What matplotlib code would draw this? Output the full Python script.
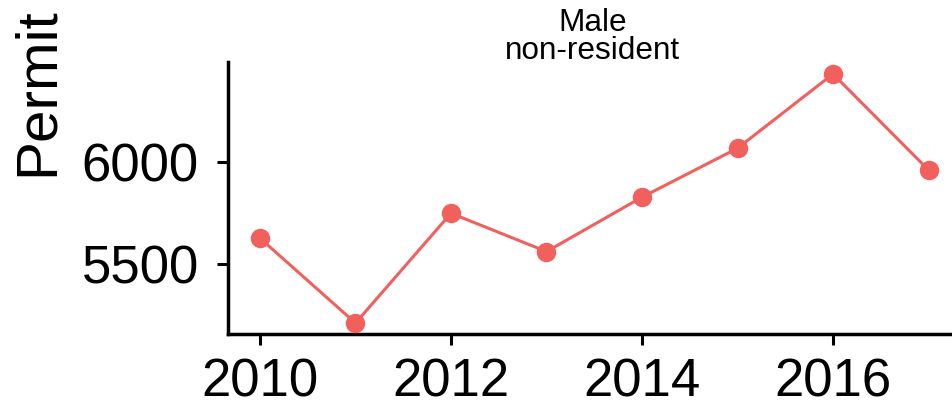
import matplotlib.pyplot as plt

years = [2010, 2011, 2012, 2013, 2014, 2015, 2016, 2017]
permits = [5627, 5209, 5750, 5561, 5829, 6070, 6436, 5963]
x_ticks = [2010, 2012, 2014, 2016]
y_ticks = [5500, 6000]

plt.rcParams['font.family'] = ['Liberation Sans', 'DejaVu Sans']

W, H = 952, 408
fig = plt.figure(figsize=(W / 100, H / 100), dpi=100)
# axes box in pixels: left 228, right 952, top 62, bottom 334
ax = fig.add_axes([228 / W, 1 - 334 / H, (952 - 228) / W, (334 - 62) / H])

ax.plot(years, permits, color='#F2605D', linewidth=2.2, marker='o',
        markersize=13, clip_on=False, zorder=3)

ax.set_xlim(2009.665, 2017.246)
ax.set_ylim(5155, 6495)
ax.set_xticks(x_ticks)
ax.set_yticks(y_ticks)

for side in ['top', 'right']:
    ax.spines[side].set_visible(False)
for side in ['left', 'bottom']:
    ax.spines[side].set_linewidth(2.5)
    ax.spines[side].set_capstyle('projecting')

ax.tick_params(axis='both', length=8, width=2.2, labelsize=38, color='black',
               labelcolor='black')
ax.tick_params(axis='x', pad=9)
ax.tick_params(axis='y', pad=13)

fig.text(38 / W, 1 - 92 / H, 'Permit', rotation=90, fontsize=42,
         ha='center', va='center')
fig.text(593 / W, 1 - 37 / H, 'Male\nnon-resident', fontsize=22.7,
         ha='center', va='center', linespacing=0.95)

fig.savefig('out.png', dpi=100)
